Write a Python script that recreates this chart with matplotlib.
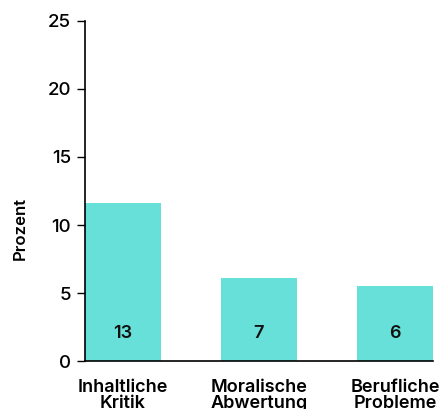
import matplotlib.pyplot as plt

plt.rcParams['font.family'] = ['Inter', 'Liberation Sans', 'DejaVu Sans']

kategorien = ['Inhaltliche\nKritik', 'Moralische\nAbwertung', 'Berufliche\nProbleme']
prozent = [11.6, 6.1, 5.5]
beschriftung = ['13', '7', '6']

fig = plt.figure(figsize=(4.4, 4.09), dpi=100)
ax = fig.add_axes([0.193, 0.117, 0.791, 0.832])

x = range(len(kategorien))
ax.bar(x, prozent, width=0.56, color='#66E0D8')
for xi, t in zip(x, beschriftung):
    ax.text(xi, 2.0, t, ha='center', va='center', fontsize=13,
            fontweight='semibold', color='#111111')

ax.set_xlim(-0.28, 2.28)
ax.set_ylim(0, 25)
ax.set_yticks([0, 5, 10, 15, 20, 25])
ax.set_xticks(list(x))
ax.set_xticklabels(kategorien, fontsize=13, fontweight='semibold',
                   linespacing=0.9, va='top')
ax.tick_params(axis='x', length=0, pad=13)
ax.tick_params(axis='y', length=6, width=1, labelsize=13.5, pad=4)
for lab in ax.get_yticklabels():
    lab.set_fontweight('medium')
ax.set_ylabel('Prozent', fontsize=12, fontweight='semibold')
ax.yaxis.set_label_coords(-0.165, 0.39)

ax.spines['top'].set_visible(False)
ax.spines['right'].set_visible(False)
ax.spines['left'].set_linewidth(1.2)
ax.spines['bottom'].set_linewidth(1.2)

fig.savefig('out.png', dpi=100)
